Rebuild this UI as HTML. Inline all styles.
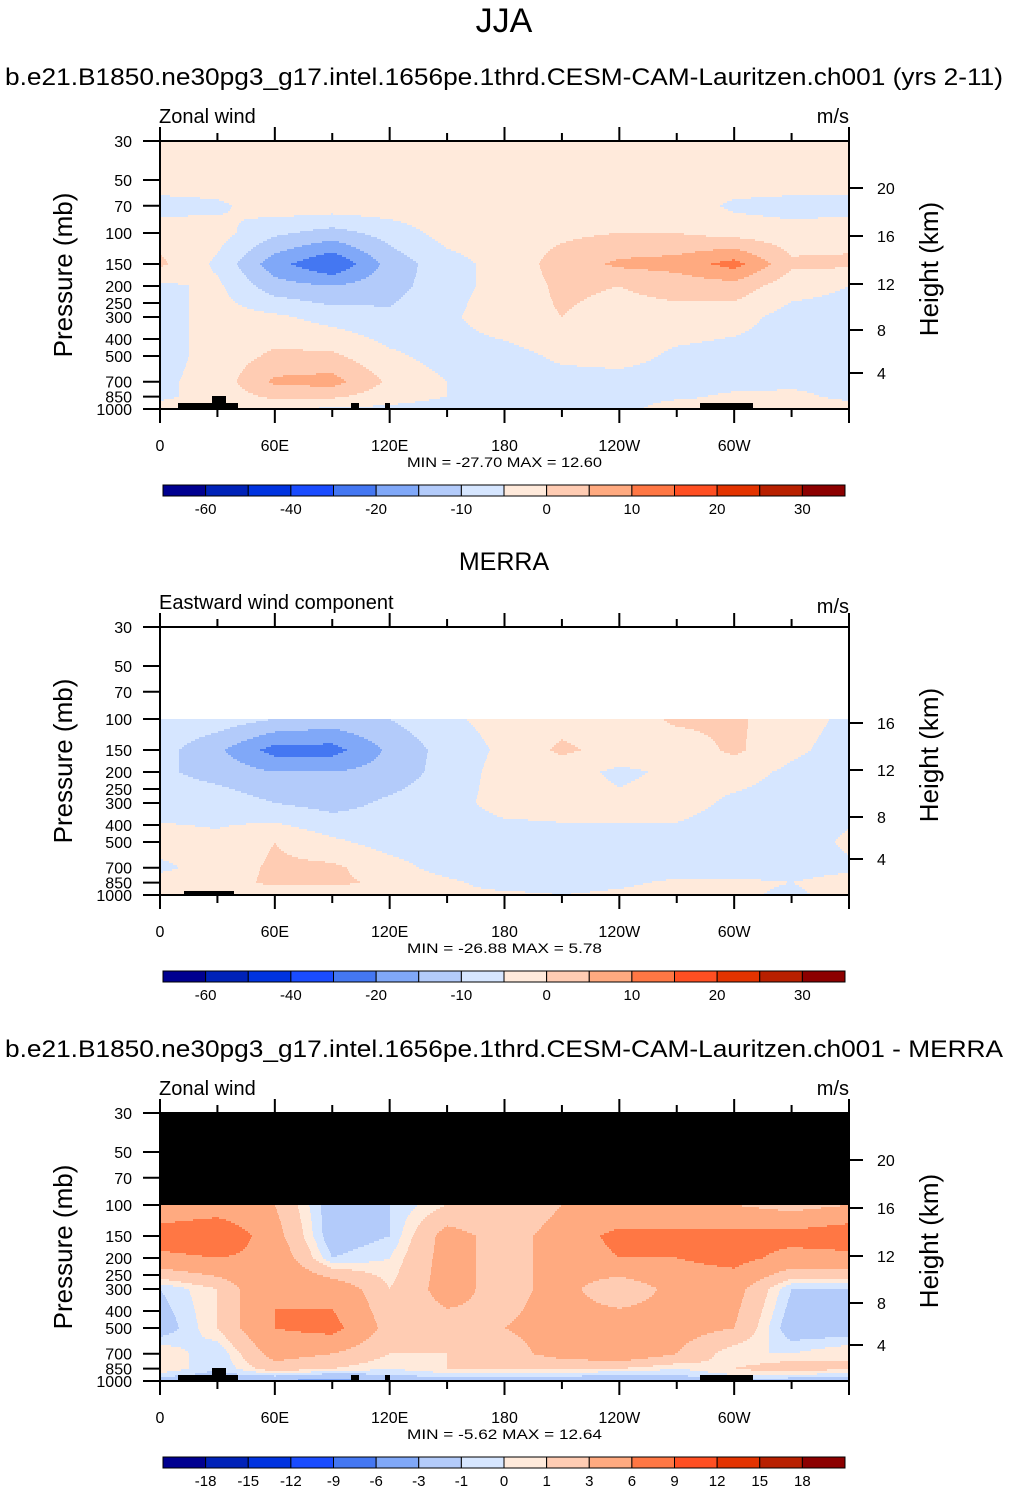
<!DOCTYPE html>
<html><head><meta charset="utf-8"><style>
body{margin:0;background:#fff;}
svg{display:block;font-family:"Liberation Sans",Arial,sans-serif;}
</style></head><body>
<svg id="s" width="1009" height="1492" viewBox="0 0 1009 1492" xmlns="http://www.w3.org/2000/svg">
<text x="504" y="32" font-size="34" text-anchor="middle">JJA</text>
<text x="5" y="85" font-size="24" textLength="998" lengthAdjust="spacingAndGlyphs">b.e21.B1850.ne30pg3_g17.intel.1656pe.1thrd.CESM-CAM-Lauritzen.ch001 (yrs 2-11)</text>
<text x="504" y="570" font-size="25" text-anchor="middle">MERRA</text>
<text x="5" y="1057" font-size="24" textLength="998" lengthAdjust="spacingAndGlyphs">b.e21.B1850.ne30pg3_g17.intel.1656pe.1thrd.CESM-CAM-Lauritzen.ch001 - MERRA</text>
</svg>
<script>
const lons=[0,30,60,90,120,150,180,210,240,270,300,330,360];
const levels1=[30,50,70,100,150,200,300,500,700,850,1000];
const model=[
[-2,-2,-2,-2,-2,-2,-2,-2,-2,-2,-2,-2,-2],
[-2,-2,-2,-2,-2,-2,-2,-2,-2,-2,-2,-2,-2],
[-7,-6,-2,-2,-2,-2,-2,-2,-2,-2,-6,-7,-7],
[-2,-3,-9,-12,-8,-3,-2,-1,0,0,-2,-3,-2],
[1,-6,-18,-25,-13,-7,-3,2,6,7,12,1,1],
[-6,-4,-13,-15,-12,-7,-3,1,0,2,3,-3,-5],
[-7,-3,-4,-7,-9,-6,-2,0,-2,-2,-3,-7,-7],
[-7,-3,1,1,-4,-7,-7,-4,-3,-6,-7,-7,-7],
[-6,-3,6,7,-1,-5,-7,-7,-7,-7,-7,-6,-6],
[-6,-3,1,1,-3,-5,-7,-7,-7,-6,-4,-4,-6],
[-3,-2,-4,-6,-6,-7,-7,-8,-7,-2,-4,-3,-3]];
const levels2=[100,150,200,300,500,700,850,1000];
const merra=[
[-6,-7,-10,-12,-10,-6,-3,-2,-3,1,1,-3,-6],
[-8,-14,-22,-22,-14,-8,-4,1,-2,-3,1,-4,-7],
[-9,-12,-15,-15,-13,-8,-3,-3,-6,-4,-3,-6,-8],
[-7,-7,-10,-12,-9,-7,-3,-3,-4,-3,-6,-7,-7],
[-3,-4,0,-4,-7,-8,-8,-7,-6,-7,-8,-8,-4],
[-6,-3,1,1,-3,-7,-8,-8,-8,-8,-8,-7,-6],
[-3,-2,1,1,-1,-4,-7,-7,-6,-4,-4,-5,-3],
[-3,-3,-3,-3,-3,-4,-4,-5,-4,-3,-4,-6,-3]];
const diff=[
[3,4,3,-2,-1,1,1,3,3,3,3,2,3],
[8,9,4,-2,-1,4,2,4,7,7,7,7,8],
[5,6,5,-1,0,4,2,4,6,6,7,5,5],
[-1,1,6,5,1,4,2,4,1,4,4,-1,-1],
[-2,1,6,7,2,2,3,4,5,4,3,-2,-2],
[1,-1,4,3,1,1,2,4,5,3,0,0,1],
[1,-1,2,1,0,1,1,1,1,0,1,2,1],
[-2,-2,-3,-4,-2,-2,-2,-2,-3,-2,-1,-2,-2]];
const bounds1=[-60,-50,-40,-30,-20,-15,-10,-5,0,5,10,15,20,25,30];
const bounds3=[-18,-15,-12,-9,-6,-3,-1,0,1,3,6,9,12,15,18];
const cbLabels1=["-60","-40","-20","-10","0","10","20","30"];
const cbLabels3=["-18","-15","-12","-9","-6","-3","-1","0","1","3","6","9","12","15","18"];
const pTicks=[30,50,70,100,150,200,250,300,400,500,700,850,1000];
const lonLabels=["0","60E","120E","180","120W","60W"];
const palette=["#000090","#0022b8","#0033e0","#1a4cff","#4477f2","#80a8f8","#b3cbfa","#d6e6ff","#ffeadb","#ffccb3","#ffaa80","#ff7744","#ff4f22","#e33300","#b82000","#8c0000"];
const svg=document.getElementById('s');
const NS="http://www.w3.org/2000/svg";
function el(tag,attrs,parent){const e=document.createElementNS(NS,tag);for(const k in attrs)e.setAttribute(k,attrs[k]);(parent||svg).appendChild(e);return e;}
const X0=160,X1=849,H=268,K=H/Math.log(1000/30);
const xs=lon=>X0+lon/360*(X1-X0);
function ys(top,p){return top+Math.log(p/30)*K;}
function colorOf(v,mode){
  const b=mode===1?bounds1:bounds3;
  let i=0;while(i<b.length&&v>=b[i])i++;return palette[i];
}
function interp(levels,grid,p,lon){
  const lp=Math.log(p);let k=0;
  while(k<levels.length-2&&Math.log(levels[k+1])<lp)k++;
  let t=(lp-Math.log(levels[k]))/(Math.log(levels[k+1])-Math.log(levels[k]));t=Math.max(0,Math.min(1,t));
  let j=Math.min(11,Math.floor(lon/30));let u=(lon-lons[j])/30;
  const a=grid[k][j]*(1-u)+grid[k][j+1]*u,b=grid[k+1][j]*(1-u)+grid[k+1][j+1]*u;
  return a*(1-t)+b*t;
}
function panel(top,levels,grid,mode,name,above){
  const g=el('g',{});
  
  
  const ytop=ys(top,levels[0]);
  if(above==='black'){const r=el('rect',{x:X0,y:top,width:X1-X0,height:ytop-top,fill:'#000'},g);}
  for(let y=Math.floor(ytop);y<top+H;y+=2){
    const p=30*Math.exp((y+1-top)/K);
    let runStart=X0,runCol=null;
    for(let x=X0;x<=X1;x+=1){
      const c=x<X1?colorOf(interp(levels,grid,p,(x+0.5-X0)/(X1-X0)*360),mode):null;
      if(c!==runCol){if(runCol)el('rect',{x:runStart,y:y,width:x-runStart,height:2.2,fill:runCol},g);runStart=x;runCol=c;}
    }
  }
}
function axes(top,name,hTicks,sub){
  const g=el('g',{});
  
  
  el('rect',{x:X0,y:top,width:X1-X0,height:H,fill:'none',stroke:'#000','stroke-width':2},g);
  for(let lon=0;lon<=360;lon+=30){const x=xs(lon),maj=lon%60===0;
    el('line',{x1:x,x2:x,y1:top,y2:top-(maj?14:8),stroke:'#000','stroke-width':2},g);
    el('line',{x1:x,x2:x,y1:top+H,y2:top+H+(maj?14:8),stroke:'#000','stroke-width':2},g);}
  lonLabels.forEach((l,i)=>{const t=el('text',{x:xs(i*60),y:top+H+42,'font-size':16,'text-anchor':'middle'},g);t.textContent=l;});
  pTicks.forEach(p=>{const y=ys(top,p);el('line',{x1:143,x2:X0,y1:y,y2:y,stroke:'#000','stroke-width':2},g);
    const t=el('text',{x:132,y:y+6,'font-size':16,'text-anchor':'end'},g);t.textContent=p;});
  hTicks.forEach(h=>{const y=h[1];el('line',{x1:X1,x2:X1+14,y1:y,y2:y,stroke:'#000','stroke-width':2},g);
    const t=el('text',{x:877,y:y+6,'font-size':16},g);t.textContent=h[0];});
  let t=el('text',{x:72,y:top+H/2,'font-size':26,'text-anchor':'middle',transform:`rotate(-90 72 ${top+H/2})`},g);t.textContent='Pressure (mb)';
  t=el('text',{x:938,y:top+H/2-6,'font-size':26,'text-anchor':'middle',transform:`rotate(-90 938 ${top+H/2-6})`},g);t.textContent='Height (km)';
  t=el('text',{x:159,y:top-18,'font-size':20},g);t.textContent=sub[0];
  t=el('text',{x:849,y:top-18+sub[2],'font-size':20,'text-anchor':'end'},g);t.textContent='m/s';
  t=el('text',{x:407,y:top+H+58,'font-size':14,textLength:195,lengthAdjust:'spacingAndGlyphs'},g);t.textContent=sub[1];
}
function topo(top,name){
  const g=el('g',{fill:'#000'});
  
  
  [[178,403,60,6],[212,396,14,13],[351,403,8,6],[385,403,5,6],[700,403,53,6]].forEach(r=>el('rect',{x:r[0],y:r[1]+(top-141),width:r[2],height:r[3]},g));
}
function colorbar(y,labels,name){
  const g=el('g',{});
  
  
  const w=(845-163)/16;
  palette.forEach((c,i)=>el('rect',{x:163+i*w,y:y,width:w,height:11,fill:c,stroke:'#000','stroke-width':1},g));
  const pos=labels.length===8?[1,3,5,7,9,11,13,15]:labels.map((_,i)=>i+1);
  labels.forEach((l,i)=>{const t=el('text',{x:163+pos[i]*w,y:y+29,'font-size':15,'text-anchor':'middle'},g);t.textContent=l;});
}
panel(141,levels1,model,1,'model');topo(141,'model');
axes(141,'model',[[4,373],[8,330],[12,284],[16,236],[20,188]],['Zonal wind','MIN = -27.70  MAX =  12.60',0]);
colorbar(485,cbLabels1,'model');
panel(627,levels2,merra,1,'merra');
el('rect',{x:184,y:891,width:50,height:4,fill:'#000'});
axes(627,'merra',[[4,859],[8,817],[12,770],[16,723]],['Eastward wind component','MIN = -26.88  MAX =   5.78',4]);
colorbar(971,cbLabels1,'merra');
panel(1113,levels2,diff,3,'difference','black');topo(1113,'difference');
axes(1113,'difference',[[4,1345],[8,1303],[12,1256],[16,1208],[20,1160]],['Zonal wind','MIN =  -5.62  MAX =  12.64',0]);
colorbar(1457,cbLabels3,'difference');
</script>
</body></html>
